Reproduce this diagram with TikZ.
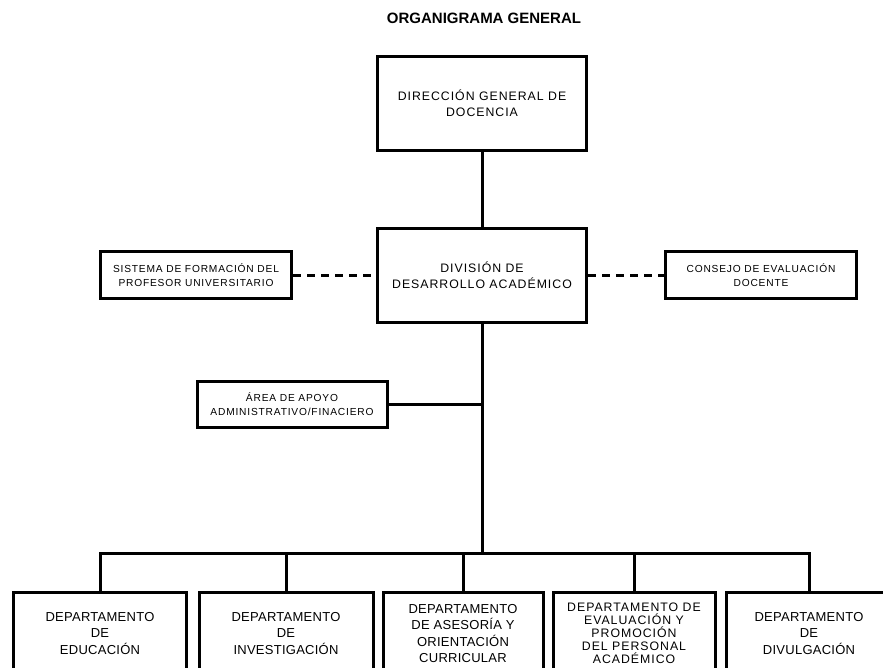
\documentclass[tikz,border=0pt]{standalone}
\usepackage{fontspec}
\setmainfont{Liberation Sans}
\newfontfamily\orgfont[LetterSpace=8]{Liberation Sans}
\newfontfamily\deptfont[LetterSpace=2]{Liberation Sans}

\begin{document}
\begin{tikzpicture}[x=1pt,y=-1pt,
	unit/.style={draw,line width=3pt,align=center,inner sep=0pt,minimum width=209pt,minimum height=94pt,font=\orgfont\fontsize{12.3}{16}\selectfont},
	staff/.style={draw,line width=3pt,align=center,inner sep=0pt,minimum width=191pt,minimum height=47pt,font=\orgfont\fontsize{10.2}{14}\selectfont},
	dept/.style={draw,line width=3pt,align=center,inner sep=0pt,minimum height=82pt,anchor=north,font=\deptfont\fontsize{13}{16.5}\selectfont},
	link/.style={line width=3pt},
	staffline/.style={line width=3pt,dash pattern=on 8pt off 6pt}]
	\useasboundingbox (0,0) rectangle (883,667);
	\clip (0,0) rectangle (883,667);
	\node[font=\bfseries\fontsize{15}{18}\selectfont] (title) at (484,18) {ORGANIGRAMA GENERAL};
	\node[unit] (dgd) at (482,103) {DIRECCIÓN GENERAL DE\\DOCENCIA};
	\node[unit] (dda) at (482,275) {DIVISIÓN DE\\DESARROLLO ACADÉMICO};
	\node[staff] (sfp) at (196,275) {SISTEMA DE FORMACIÓN DEL\\PROFESOR UNIVERSITARIO};
	\node[staff] (ced) at (761,275) {CONSEJO DE EVALUACIÓN\\DOCENTE};
	\node[staff,minimum width=190pt,minimum height=46pt] (aaa) at (292,404) {ÁREA DE APOYO\\ADMINISTRATIVO/FINACIERO};
	\node[dept,minimum width=173pt] (dedu) at (100,591) {DEPARTAMENTO\\DE\\EDUCACIÓN};
	\node[dept,minimum width=174pt] (dinv) at (286,591) {DEPARTAMENTO\\DE\\INVESTIGACIÓN};
	\node[dept,minimum width=160pt] (daoc) at (463,591) {DEPARTAMENTO\\DE ASESORÍA Y\\ORIENTACIÓN\\CURRICULAR};
	\node[dept,minimum width=162pt,font=\orgfont\fontsize{12.3}{13}\selectfont] (depa) at (634,591) {DEPARTAMENTO DE\\EVALUACIÓN Y\\PROMOCIÓN\\DEL PERSONAL\\ACADÉMICO};
	\node[dept,minimum width=166pt] (ddiv) at (809,591) {DEPARTAMENTO\\DE\\DIVULGACIÓN};
	\coordinate (bus) at (482,553);
	\draw[link] (dgd) -- (dda);
	\draw[staffline] (sfp) -- (dda);
	\draw[staffline] (dda) -- (ced);
	\draw[link] (dda) -- (bus);
	\draw[link] (aaa) -- (aaa -| dda);
	\draw[link] (dedu.north) |- (bus) -| (ddiv.north);
	\foreach \d in {dinv,daoc,depa}
		\draw[link] (\d.north) -- (\d.north |- bus);
\end{tikzpicture}
\end{document}
